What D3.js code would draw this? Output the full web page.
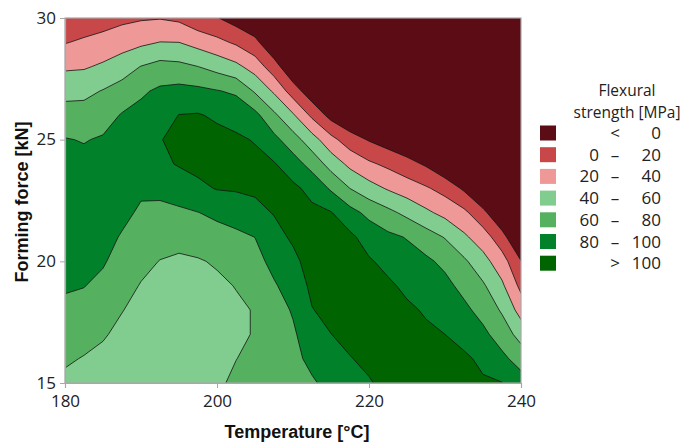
<!DOCTYPE html>
<html><head><meta charset="utf-8">
<script src="https://cdn.jsdelivr.net/npm/d3@7"></script>
<style>body{margin:0;background:#fff;} svg{display:block}</style>
</head><body><svg id="chart" width="688" height="443"></svg>
<script>
// ---- data ----
const temperatures = [180,182.5,185,187.5,190,192.5,195,197.5,200,202.5,205,207.5,210,212.5,215,217.5,220,222.5,225,227.5,230,232.5,235,237.5,240];
const forces = [30,29,28,27,26,25,24,23,22,21,20,19,18,17,16,15];
// Flexural strength [MPa], one row per forming force (30 kN at top), one column per temperature
const strength = [
 [4,8,11,15.5,18,19,16,6,1,-9,-18.5,-45,-60,-60,-60,-60,-60,-60,-60,-60,-60,-60,-60,-60,-60],
 [19,23,27,31.5,36,40.4,40,32.7,25.3,17,5.3,-18,-46,-60,-60,-60,-60,-60,-60,-60,-60,-60,-60,-60,-60],
 [37,38,43,50.5,60.6,66.7,65,60.2,53,45,31.3,8.8,-18,-42,-60,-60,-60,-60,-60,-60,-60,-60,-60,-60,-60],
 [54,55,61,68,77,83.4,86,84.5,81,77,57.6,37,10.1,-13,-38.6,-45,-55,-60,-60,-60,-60,-60,-60,-60,-60],
 [68,68,72,81.5,86,91,100.5,101.5,97,93,85.7,64.2,42.7,15.9,-7,-18.7,-27,-38,-50,-55,-60,-60,-60,-60,-60],
 [81,79,82,87,91,99,106,107,106,103,98.8,85.5,68.7,48.6,26.3,8.9,-1.5,-10,-18,-28,-48,-60,-60,-60,-60],
 [86,85,88,91,91,96,101.5,105,107,108,105,101.5,89,72.7,52.3,35,23.3,15.7,7.1,-2.6,-17.5,-33.6,-60,-60,-60],
 [89,89,91,91,84,85,89.4,96,101,102,103,106,104,94.5,77.3,59.8,47.8,38,30,22.3,12.9,-3.3,-26,-50,-60],
 [90,91,91,86,76.4,75,76.7,79.6,84.3,88,94.8,101,108,104,101,86.8,74.7,65.1,54.9,43.8,34.2,24.6,5.6,-21,-50],
 [89,89,88,78,70.6,67,66,68.8,72.3,76,80.2,93.4,103,108,106,104,91.8,84.2,78.9,69.2,58.8,43.4,29.6,7.8,-25],
 [86,86,82,72,64.8,59.5,57,58.5,62,68.4,73.8,85.5,95.2,108,109,108,102,94.8,87.9,83.6,75.5,63.3,47,28.5,0.7],
 [82,80.6,75,66.5,59,55,52,55,56.5,60.7,67.6,78,88.5,104,108,110,108,103,96.3,90.9,85.3,74.3,62.7,43.4,14.7],
 [76,73.5,68.5,60.7,54,51,49,53,53,57,61,71.4,81.8,99.3,105,109,110,107,103,98.2,92.7,84.5,73.3,57.6,32],
 [69,66.3,62,55,50,48,48,53,53,57,61,69.6,77.2,91.5,99.8,105,108,108,106,103,100,93.9,84.5,70.8,52.4],
 [62.5,59,55,51,48,47,48,53,56,59.8,63,70.7,76.2,83.6,90.7,99.2,104,107,107,106,104,103,96.4,84.6,71.6],
 [56,53,50,48,47,46,49,54,58,62.3,66.3,70.3,74.3,78.3,84.2,91.3,98.5,105,106,106,105,104,102,100.5,88.7]
];
const thresholds = [0,20,40,60,80,100];
const bandColors = ["#5b0c15","#c8484a","#ee9898","#81cd8f","#55b05f","#00812a","#006400"];
const legendLow  = ["","0","20","40","60","80",""];
const legendSym  = ["<","\u2013","\u2013","\u2013","\u2013","\u2013",">"];
const legendHigh = ["0","20","40","60","80","100","100"];
const xTicks = [180,200,220,240];
const yTicks = [15,20,25,30];

// ---- layout ----
const svg = d3.select("#chart");
const L = 65, R = 521, T = 18, B = 383;
const x = d3.scaleLinear().domain([180,240]).range([L,R]);
const y = d3.scaleLinear().domain([15,30]).range([B,T]);

svg.append("defs").append("clipPath").attr("id","plotclip")
  .append("rect").attr("x",L).attr("y",T).attr("width",R-L).attr("height",B-T);

const plot = svg.append("g").attr("clip-path","url(#plotclip)");
plot.append("rect").attr("x",L).attr("y",T).attr("width",R-L).attr("height",B-T)
  .attr("fill",bandColors[0]);

const nx = temperatures.length, ny = forces.length;
const tStep = temperatures[1]-temperatures[0];
const fStep = forces[0]-forces[1];
const proj = d3.geoTransform({point: function(gx, gy){
  this.stream.point(x(temperatures[0] + (gx-0.5)*tStep), y(forces[0] - (gy-0.5)*fStep));
}});
const path = d3.geoPath(proj);
const cs = d3.contours().size([nx, ny]).thresholds(thresholds)(strength.flat());

plot.selectAll("path.band").data(cs).join("path")
  .attr("class","band")
  .attr("d", path)
  .attr("fill", (d,i) => bandColors[i+1])
  .attr("stroke", "#141414")
  .attr("stroke-width", 0.8)
  .attr("stroke-linejoin","round");

// frame
svg.append("rect").attr("x",L).attr("y",T).attr("width",R-L).attr("height",B-T)
  .attr("fill","none").attr("stroke","#a8a8a8").attr("stroke-width",1.2);

const tickFont = "'Open Sans', 'Segoe UI', sans-serif";
const xAxis = svg.append("g").attr("transform",`translate(0,${B})`)
  .call(d3.axisBottom(x).tickValues(xTicks).tickSize(5).tickPadding(7).tickFormat(d3.format("d")));
const yAxis = svg.append("g").attr("transform",`translate(${L},0)`)
  .call(d3.axisLeft(y).tickValues(yTicks).tickSize(5).tickPadding(4).tickFormat(d3.format("d")));
[xAxis,yAxis].forEach(g => {
  g.select(".domain").attr("stroke","#a8a8a8").attr("stroke-width",1.2);
  g.selectAll(".tick line").attr("stroke","#a8a8a8");
  g.selectAll(".tick text").attr("font-family",tickFont).attr("font-size",17).attr("fill","#222");
});
yAxis.selectAll(".tick text").attr("dy","0.3em");

// axis titles
svg.append("text").attr("x",297).attr("y",438).attr("text-anchor","middle")
  .attr("font-family","'Liberation Sans', Arial, sans-serif").attr("font-weight","bold")
  .attr("font-size",18).attr("fill","#111").text("Temperature [°C]");
svg.append("text").attr("transform","translate(28,202) rotate(-90)").attr("text-anchor","middle")
  .attr("font-family","'Liberation Sans', Arial, sans-serif").attr("font-weight","bold")
  .attr("font-size",18).attr("fill","#111").text("Forming force [kN]");

// legend
const lg = svg.append("g").attr("font-family",tickFont).attr("font-size",17).attr("fill","#222");
lg.append("text").attr("x",627).attr("y",96).attr("text-anchor","middle").attr("font-size",15.5).text("Flexural");
lg.append("text").attr("x",627).attr("y",117.5).attr("text-anchor","middle").attr("font-size",15.5).text("strength [MPa]");
const rowY = i => 133 + i*21.7;
bandColors.forEach((c,i) => {
  lg.append("rect").attr("x",540).attr("y",rowY(i)-7.5).attr("width",16).attr("height",15).attr("fill",c);
  lg.append("text").attr("x",599).attr("y",rowY(i)+6).attr("text-anchor","end").text(legendLow[i]);
  lg.append("text").attr("x",615).attr("y",rowY(i)+6).attr("text-anchor","middle").text(legendSym[i]);
  lg.append("text").attr("x",661).attr("y",rowY(i)+6).attr("text-anchor","end").text(legendHigh[i]);
});
</script>
</body></html>
